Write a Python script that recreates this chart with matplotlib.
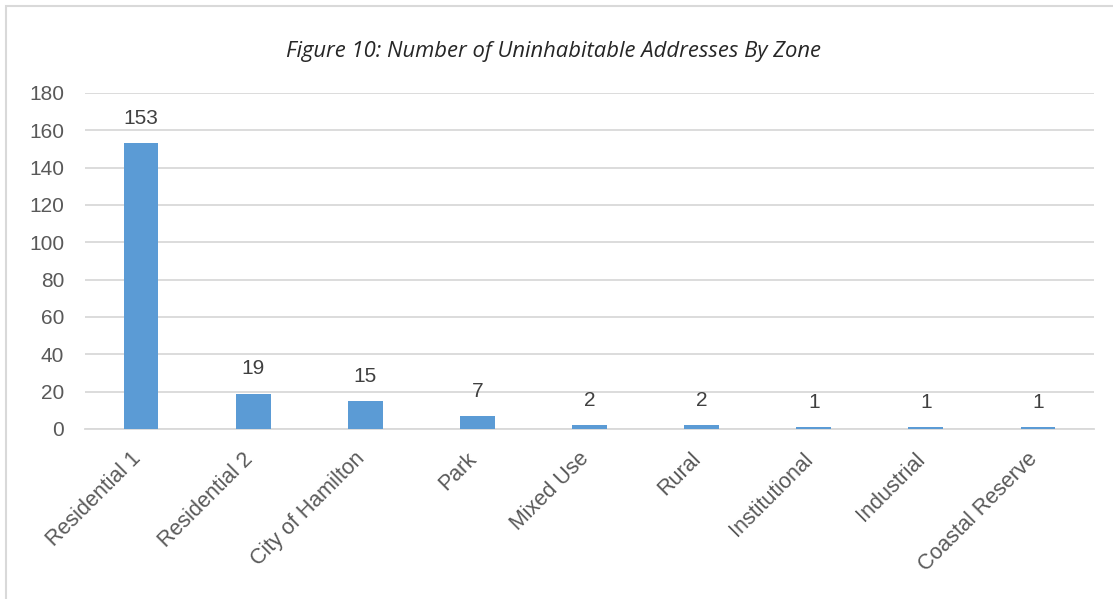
import matplotlib.pyplot as plt
from matplotlib.patches import Rectangle
from matplotlib.transforms import ScaledTranslation

zones = ["Residential 1", "Residential 2", "City of Hamilton", "Park", "Mixed Use",
         "Rural", "Institutional", "Industrial", "Coastal Reserve"]
counts = [153, 19, 15, 7, 2, 2, 1, 1, 1]
y_ticks = [0, 20, 40, 60, 80, 100, 120, 140, 160, 180]

W, H = 1113, 599
fig = plt.figure(figsize=(W / 100, H / 100), dpi=100)

# frame around the chart (only top and left show)
fig.patches.append(Rectangle((6 / W, -0.1), 1.2, 1 - 6 / H + 0.1, transform=fig.transFigure,
                             fill=False, edgecolor="#d9d9d9", linewidth=1.5))

ax = fig.add_axes([85 / W, 1 - 429 / H, (1094 - 85) / W, (429 - 93) / H])

x = range(len(zones))
ax.bar(x, counts, width=0.31, color="#5b9bd5", zorder=3)
for i, c in zip(x, counts):
    ax.annotate(str(c), (i, c), xytext=(0, 11), textcoords="offset points",
                ha="center", va="bottom", fontsize=15, color="#404040",
                family="Liberation Sans")

ax.set_xlim(-0.5, len(zones) - 0.5)
ax.set_ylim(0, 180)
ax.set_yticks(y_ticks)
ax.set_yticklabels([str(t) for t in y_ticks], fontsize=15, color="#595959",
                   family="Liberation Sans")
ax.yaxis.grid(True, color="#d9d9d9", linewidth=1.3, zorder=0)
ax.tick_params(axis="both", length=0)
ax.tick_params(axis="y", pad=15)
ax.set_xticks(list(x))
ax.set_xticklabels(zones, rotation=45, ha="right", va="top", rotation_mode="anchor",
                   fontsize=15.5, color="#595959", family="Liberation Sans")
ax.tick_params(axis="x", pad=14)
# nudge the slanted labels left so they end under the bars
shift = ScaledTranslation(-11 / 100, 0, fig.dpi_scale_trans)
for lbl in ax.get_xticklabels():
    lbl.set_transform(lbl.get_transform() + shift)
for s in ["top", "right", "left"]:
    ax.spines[s].set_visible(False)
ax.spines["bottom"].set_color("#d9d9d9")
ax.spines["bottom"].set_linewidth(1.3)

fig.text(553 / W, 1 - 52 / H, "Figure 10: Number of Uninhabitable Addresses By Zone",
         ha="center", va="center", fontsize=15.8, style="italic", color="#262626",
         family="Open Sans")

fig.savefig("out.png", dpi=100)
